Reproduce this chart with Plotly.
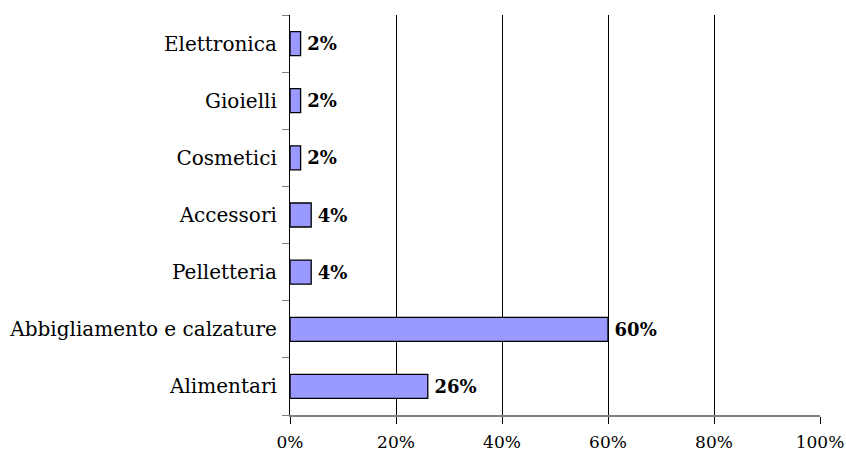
import plotly.graph_objects as go

categories = ["Alimentari", "Abbigliamento e calzature", "Pelletteria", "Accessori",
              "Cosmetici", "Gioielli", "Elettronica"]
values = [26, 60, 4, 4, 2, 2, 2]
x_ticks = [0, 20, 40, 60, 80, 100]
x_tick_labels = ["0%", "20%", "40%", "60%", "80%", "100%"]

FONT = "DejaVu Serif"

fig = go.Figure()
fig.add_trace(go.Bar(
    y=categories, x=values, orientation="h",
    marker=dict(color="#9999FF", line=dict(color="black", width=1.3)),
    width=0.42,
    text=[f"{v}%" for v in values], textposition="outside",
    texttemplate="\u2009%{text}", constraintext="none",
    textfont=dict(family=FONT, size=18, color="black", weight="bold"),
    cliponaxis=False,
))

fig.update_layout(
    width=846, height=457,
    margin=dict(l=290, r=26, t=15, b=42),
    paper_bgcolor="white", plot_bgcolor="white",
    showlegend=False,
    font=dict(family=FONT, size=17, color="black"),
    xaxis=dict(
        range=[0, 100], tickvals=x_ticks, ticktext=x_tick_labels,
        tickfont=dict(size=17),
        showgrid=True, gridcolor="black", gridwidth=1,
        showline=True, linecolor="#808080", linewidth=1.5,
        ticks="outside", ticklen=7, tickcolor="black", tickwidth=1,
        zeroline=False, fixedrange=True, automargin=False, ticklabelstandoff=4,
    ),
    yaxis=dict(
        type="category", categoryorder="array", categoryarray=categories,
        tickfont=dict(size=20),
        showline=True, linecolor="black", linewidth=1.3,
        ticks="outside", tickson="boundaries", ticklen=7, tickcolor="#808080", tickwidth=1.3,
        showgrid=False, zeroline=False, ticklabelstandoff=8, automargin=False,
    ),
    bargap=0.58,
)

fig.write_html("out.html")
